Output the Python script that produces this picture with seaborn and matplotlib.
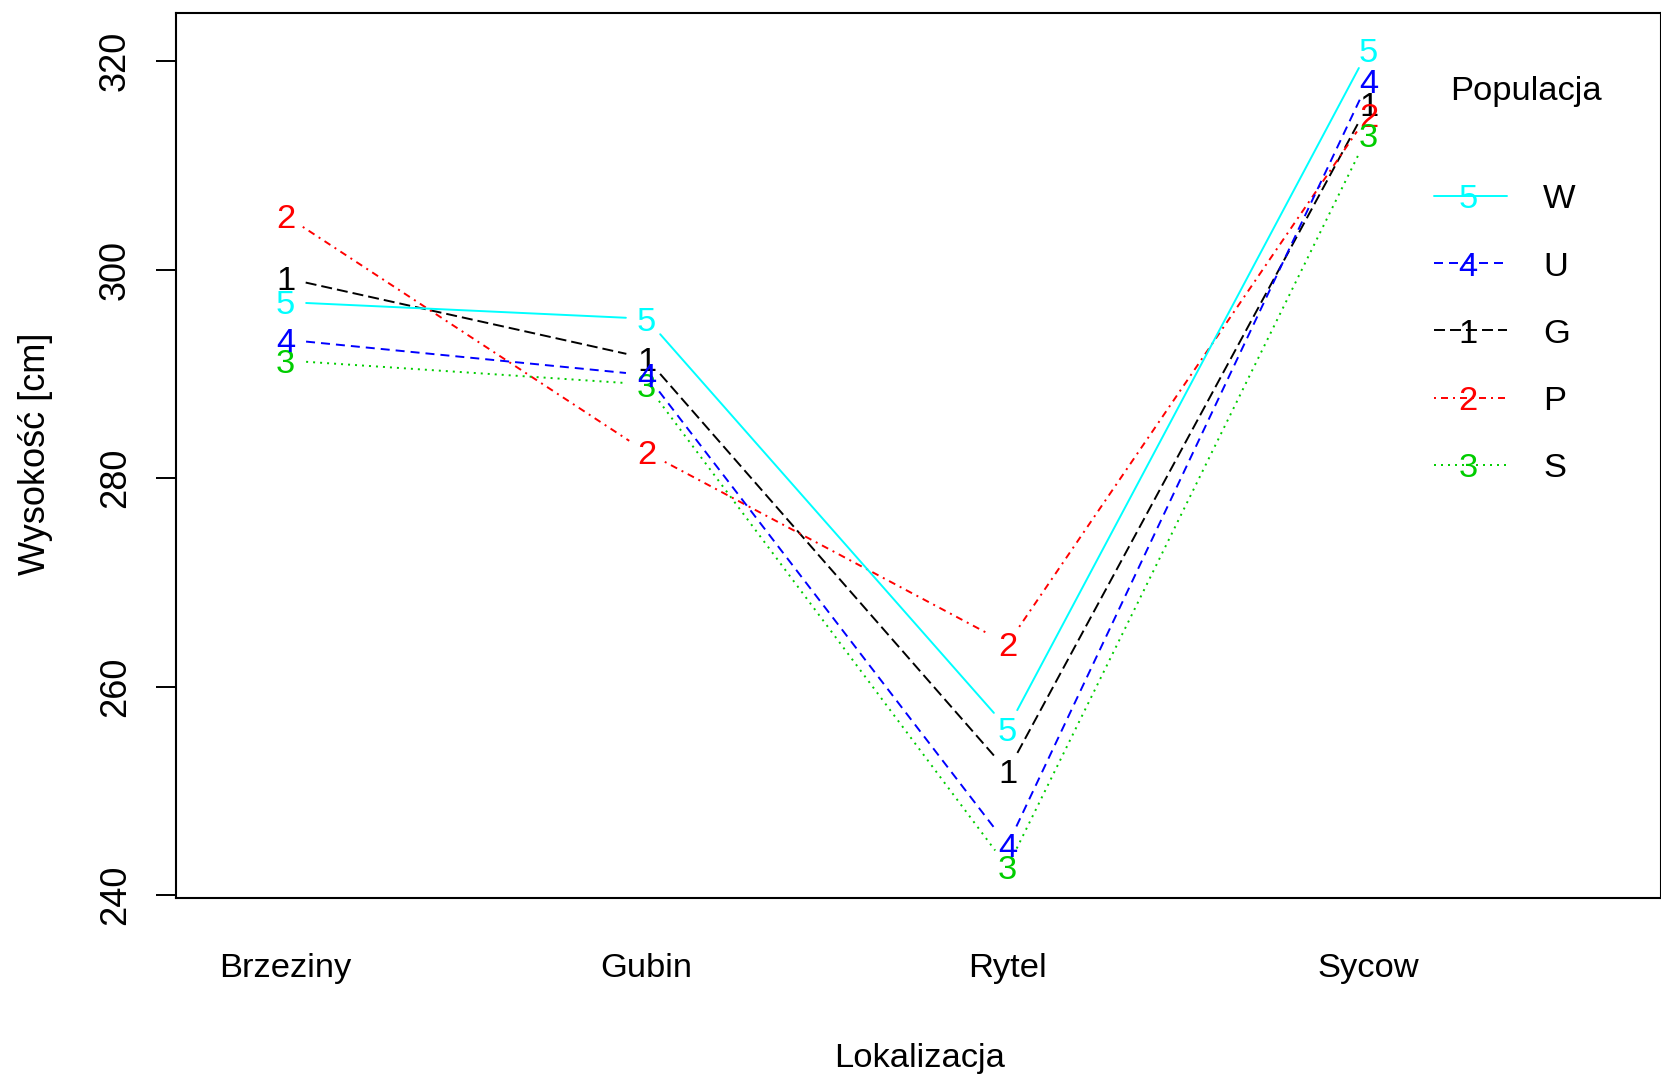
import numpy as np
import pandas as pd
import matplotlib
matplotlib.use("Agg")
import matplotlib.pyplot as plt
import matplotlib.transforms as mtransforms
import seaborn as sns

# ---------------- data ----------------
locations = ["Brzeziny", "Gubin", "Rytel", "Sycow"]
populations = ["G", "P", "S", "U", "W"]
pop_symbols = ["1", "2", "3", "4", "5"]
G_vals = [299.2, 291.5, 251.9, 315.9]
P_vals = [305.2, 282.5, 264.1, 314.9]
S_vals = [291.3, 289.0, 242.7, 313.0]
U_vals = [293.3, 289.9, 244.8, 318.1]
W_vals = [296.9, 295.3, 256.0, 321.1]
y_ticks = [240, 260, 280, 300, 320]
pop_colors = ["#000000", "#FF0000", "#00CD00", "#0000FF", "#00FFFF"]
x_title = "Lokalizacja"
y_title = "Wysokość [cm]"
legend_title = "Populacja"

values = {"G": G_vals, "P": P_vals, "S": S_vals, "U": U_vals, "W": W_vals}

# ---------------- style ----------------
sns.set_style("white")
plt.rcParams["font.family"] = ["Liberation Sans", "DejaVu Sans"]
plt.rcParams["lines.scale_dashes"] = False

FS = 24.8          # pt, ~34.5 px
FS_ROT = 26.0
LW = 1.4
PX = 0.72          # points per pixel at 100 dpi
dash_map = {
    "G": (11 * PX, 5 * PX),                    # longdash
    "P": (2 * PX, 5 * PX, 7 * PX, 5 * PX),     # dotdash
    "S": (2 * PX, 5 * PX),                     # dotted
    "U": (9 * PX, 6 * PX),                     # dashed
    "W": "",                                   # solid
}
palette = dict(zip(populations, pop_colors))
symbols = dict(zip(populations, pop_symbols))

W_PX, H_PX, DPI = 1661, 1078, 100
fig = plt.figure(figsize=(W_PX / DPI, H_PX / DPI), dpi=DPI)
L, R, T, B = 176.0, 1661.0, 13.3, 898.4
ax = fig.add_axes([L / W_PX, 1 - B / H_PX, (R - L) / W_PX, (B - T) / H_PX])

XLIM = (0.6967, 4.810)
YLIM = (239.69, 324.6)
ax.set_xlim(*XLIM)
ax.set_ylim(*YLIM)

x_pos = np.arange(1, len(locations) + 1)

# long-form table of the means
long_df = pd.DataFrame(
    [(p, loc, x, v) for p in populations for loc, x, v in zip(locations, x_pos, values[p])],
    columns=["pop", "loc", "x", "y"],
)

# segments with gaps around the point symbols (R type="b")
em_px = FS * DPI / 72.0
gap = 0.6 * em_px
rows = []
seg_id = 0
for p in populations:
    sub = long_df[long_df["pop"] == p].sort_values("x")
    pts = ax.transData.transform(sub[["x", "y"]].to_numpy())
    for i in range(len(pts) - 1):
        p0, p1 = pts[i], pts[i + 1]
        d = p1 - p0
        ln = np.hypot(*d)
        if ln <= 2 * gap:
            continue
        a = p0 + d / ln * gap
        b = p1 - d / ln * gap
        da, db = ax.transData.inverted().transform(np.vstack([a, b]))
        rows.append((p, seg_id, da[0], da[1]))
        rows.append((p, seg_id, db[0], db[1]))
        seg_id += 1
seg_df = pd.DataFrame(rows, columns=["pop", "seg", "x", "y"])

sns.lineplot(
    data=seg_df, x="x", y="y", hue="pop", style="pop", units="seg",
    estimator=None, sort=False, palette=palette, dashes=dash_map,
    hue_order=populations, style_order=populations,
    legend=False, linewidth=LW, ax=ax,
)

# point symbols (digits), ink-centred on the data point
cap_px = 0.716 * em_px
sym_tr = mtransforms.offset_copy(ax.transData, fig=fig, y=-cap_px / 2, units="dots")
for _, r in long_df.iterrows():
    ax.text(r["x"], r["y"], symbols[r["pop"]], color=palette[r["pop"]],
            fontsize=FS, ha="center", va="baseline", transform=sym_tr, zorder=5)

ax.set_xlim(*XLIM)
ax.set_ylim(*YLIM)

# ---------------- axes ----------------
for s in ax.spines.values():
    s.set_visible(True)
    s.set_color("black")
    s.set_linewidth(1.5)

ax.set_yticks(y_ticks)
ax.set_yticklabels([str(t) for t in y_ticks], rotation=90, va="center")
ax.tick_params(axis="y", left=True, length=14.4, width=1.4, pad=16.5,
               labelsize=FS_ROT, direction="out", color="black", labelcolor="black")
ax.set_xticks(x_pos)
ax.set_xticklabels(locations)
ax.tick_params(axis="x", bottom=False, length=0, pad=39, labelsize=FS, labelcolor="black")

def ax_frac(px, py):
    return (px - L) / (R - L), (B - py) / (B - T)

ax.set_xlabel(x_title, fontsize=FS, color="black")
ax.xaxis.label.set_va("baseline")
ax.xaxis.set_label_coords(*ax_frac(920.0, 1066.7))

ax.set_ylabel(y_title, fontsize=FS_ROT, color="black")
ax.yaxis.label.set_va("baseline")
ax.yaxis.label.set_ha("center")
ax.yaxis.set_label_coords(*ax_frac(44.8, 454.0))

# ---------------- legend (R style, no box) ----------------
order = sorted(populations, key=lambda p: -values[p][-1])
tx, ty = ax_frac(1525.8, 100.0)
ax.text(tx, ty, legend_title, fontsize=FS, ha="center", va="baseline",
        transform=ax.transAxes, color="black")
leg_tr = mtransforms.offset_copy(ax.transAxes, fig=fig, y=-cap_px / 2, units="dots")
y0, step = 196.0, 67.2
for k, p in enumerate(order):
    yc = y0 + k * step
    x1, yy = ax_frac(1434.3, yc)
    x2, _ = ax_frac(1506.7, yc)
    kw = {} if dash_map[p] == "" else {"dashes": dash_map[p]}
    ax.plot([x1, x2], [yy, yy], transform=ax.transAxes, color=palette[p],
            lw=LW, clip_on=False, **kw)
    xs, _ = ax_frac(1468.3, yc)
    ax.text(xs, yy, symbols[p], color=palette[p], fontsize=FS, ha="center",
            va="baseline", transform=leg_tr)
    xl, _ = ax_frac(1543.0, yc)
    ax.text(xl, yy, p, color="black", fontsize=FS, ha="left",
            va="baseline", transform=leg_tr)

fig.savefig("out.png", dpi=DPI, facecolor="white")
